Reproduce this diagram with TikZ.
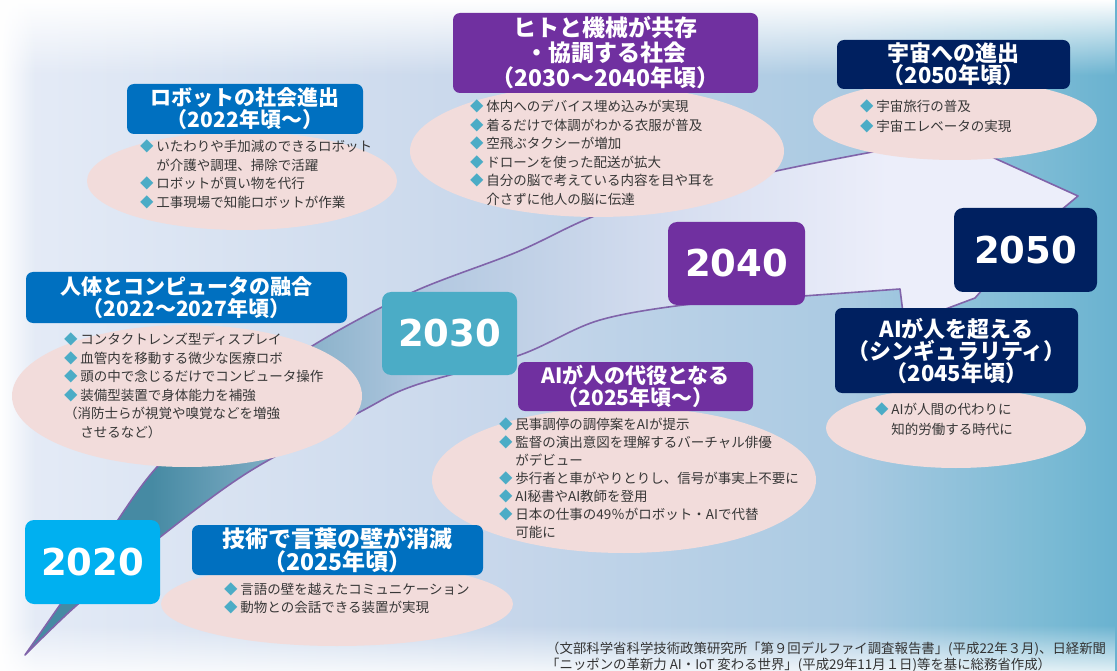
\documentclass[tikz,border=0pt]{standalone}
\usepackage{fontspec}
\setmainfont{Noto Sans CJK JP}
\newfontfamily\yearfont{DejaVu Sans}
\usetikzlibrary{shapes.geometric,fadings,positioning}

\definecolor{robotblue}{RGB}{0,112,192}
\definecolor{kyouchoupurple}{RGB}{112,48,160}
\definecolor{uchuunavy}{RGB}{0,32,96}
\definecolor{cyan2020}{RGB}{0,176,240}
\definecolor{teal2030}{RGB}{75,172,198}
\definecolor{bubblepink}{RGB}{242,220,219}
\definecolor{diacol}{RGB}{75,172,198}
\definecolor{bodytext}{RGB}{55,55,55}
\definecolor{edgepurple}{RGB}{128,100,170}
\definecolor{ribdark}{RGB}{70,138,163}
\definecolor{ribmid}{RGB}{120,168,192}
\definecolor{riblight}{RGB}{178,200,224}
\definecolor{ribpale}{RGB}{214,222,240}
\definecolor{ribwhite}{RGB}{236,238,250}
\definecolor{bgA}{RGB}{230,236,247}
\definecolor{bgB}{RGB}{200,215,235}
\definecolor{bgC}{RGB}{170,202,226}
\definecolor{bgD}{RGB}{122,186,212}
\definecolor{bgE}{RGB}{105,178,208}

\pgfdeclarehorizontalshading{ribbonshade}{100bp}{color(0bp)=(ribdark); color(31bp)=(ribdark); color(36bp)=(ribmid); color(44bp)=(riblight); color(56bp)=(ribpale); color(66bp)=(ribwhite); color(100bp)=(ribwhite)}
\pgfdeclarehorizontalshading{backshade}{100bp}{color(0bp)=(bgA); color(25bp)=(bgA); color(47bp)=(bgB); color(63bp)=(bgC); color(72bp)=(bgD); color(75bp)=(bgE); color(100bp)=(bgE)}

\tikzfading[name=whitetop, top color=transparent!0, bottom color=transparent!100]
\tikzfading[name=whitebottom, bottom color=transparent!0, top color=transparent!100]
\tikzfading[name=whiteleft, left color=transparent!0, right color=transparent!100]

\newcommand{\bul}{\textcolor{diacol}{◆}\hspace{0.2em}}
\newcommand{\ind}{\hspace*{1.2em}}

\tikzset{
  titlebox/.style={rectangle, rounded corners=7pt, text=white, inner sep=0pt, align=center,
    font=\bfseries\fontsize{21}{22}\selectfont},
  yearbox/.style={rectangle, rounded corners=9pt, text=white, inner sep=0pt,
    font=\yearfont\bfseries\fontsize{37}{38}\selectfont},
  bubble/.style={ellipse, fill=bubblepink, inner sep=0pt},
  bubbletext/.style={anchor=north west, inner sep=0pt, align=left, text=bodytext,
    font=\fontsize{13.5}{18.5}\selectfont},
}

\begin{document}
\begin{tikzpicture}[x=1pt, y=-1pt]
  \useasboundingbox (0,0) rectangle (1117,671);
  \shade[shading=backshade] (0,0) rectangle (1117,671);
  \fill[white, path fading=whitetop] (0,0) rectangle (1117,75);
  \fill[white, path fading=whiteleft] (0,0) rectangle (35,671);
  \fill[white, path fading=whitebottom, fill opacity=0.8] (0,625) rectangle (1117,671);

  \shade[shading=ribbonshade, draw=edgepurple, line width=1.6pt, line join=round]
    plot[smooth, tension=0.55] coordinates {(25,655) (90,562) (157,467) (240,397) (317,343) (413,292) (517,252) (600,214) (700,188) (800,166) (883,150)}
    -- (950,138) -- (1078,196) -- (1030,236) -- (975,298) -- (935,313) -- (903,313) -- (900,289)
    -- plot[smooth, tension=0.55] coordinates {(900,289) (803,296) (700,303) (600,320) (520,355) (413,386) (360,412) (247,473) (150,545) (77,605) (25,655)}
    -- cycle;

  \node[bubble, minimum width=310pt, minimum height=98pt] (robotbub) at (242,181) {};
  \node[bubble, minimum width=374pt, minimum height=132pt] (kyouchoubub) at (597,151) {};
  \node[bubble, minimum width=284pt, minimum height=80pt] (uchuubub) at (955,120) {};
  \node[bubble, minimum width=350pt, minimum height=142pt] (yuugoubub) at (187,396) {};
  \node[bubble, minimum width=384pt, minimum height=146pt] (daiyakubub) at (624,480) {};
  \node[bubble, minimum width=260pt, minimum height=80pt] (singularbub) at (956,428) {};
  \node[bubble, minimum width=352pt, minimum height=84pt] (kotobabub) at (337,604) {};

  \node[titlebox, fill=robotblue, minimum width=236pt, minimum height=50pt] (robottitle) at (245,109)
    {ロボットの社会進出\\（2022年頃～）};
  \node[titlebox, fill=robotblue, minimum width=321pt, minimum height=51pt] (yuugoutitle) at (186.5,297.5)
    {人体とコンピュータの融合\\（2022～2027年頃）};
  \node[titlebox, fill=robotblue, minimum width=291pt, minimum height=50pt,
    font=\bfseries\fontsize{23}{22}\selectfont] (kotobatitle) at (337.5,550)
    {技術で言葉の壁が消滅\\（2025年頃）};
  \node[titlebox, fill=kyouchoupurple, minimum width=305pt, minimum height=80pt,
    font=\bfseries\fontsize{23}{25}\selectfont] (kyouchoutitle) at (605.5,53)
    {ヒトと機械が共存\\・協調する社会\\（2030～2040年頃）};
  \node[titlebox, fill=kyouchoupurple, minimum width=235pt, minimum height=49pt] (daiyakutitle) at (635.5,386.5)
    {AIが人の代役となる\\（2025年頃～）};
  \node[titlebox, fill=uchuunavy, minimum width=233pt, minimum height=49pt,
    font=\bfseries\fontsize{22}{22}\selectfont] (uchuutitle) at (953.5,64.5)
    {宇宙への進出\\（2050年頃）};
  \node[titlebox, fill=uchuunavy, minimum width=243pt, minimum height=85pt,
    font=\bfseries\fontsize{22}{22}\selectfont] (singulartitle) at (956.5,350.5)
    {AIが人を超える\\（シンギュラリティ）\\（2045年頃）};

  \node[yearbox, fill=cyan2020, minimum width=135pt, minimum height=84pt] (y2020) at (92.5,562) {2020};
  \node[yearbox, fill=teal2030, minimum width=135pt, minimum height=83pt] (y2030) at (449.5,333.5) {2030};
  \node[yearbox, fill=kyouchoupurple, minimum width=137pt, minimum height=83pt] (y2040) at (736.5,263.5) {2040};
  \node[yearbox, fill=uchuunavy, minimum width=143pt, minimum height=84pt] (y2050) at (1025.5,250) {2050};

  \node[bubbletext] (robottxt) at (140,140)
    {\bul いたわりや手加減のできるロボット\\\ind が介護や調理、掃除で活躍\\\bul ロボットが買い物を代行\\\bul 工事現場で知能ロボットが作業};
  \node[bubbletext] (kyouchoutxt) at (470,100)
    {\bul 体内へのデバイス埋め込みが実現\\\bul 着るだけで体調がわかる衣服が普及\\\bul 空飛ぶタクシーが増加\\\bul ドローンを使った配送が拡大\\\bul 自分の脳で考えている内容を目や耳を\\\ind 介さずに他人の脳に伝達};
  \node[bubbletext, font=\fontsize{13.5}{20}\selectfont] (uchuutxt) at (860,100)
    {\bul 宇宙旅行の普及\\\bul 宇宙エレベータの実現};
  \node[bubbletext] (yuugoutxt) at (64,333)
    {\bul コンタクトレンズ型ディスプレイ\\\bul 血管内を移動する微少な医療ロボ\\\bul 頭の中で念じるだけでコンピュータ操作\\\bul 装備型装置で身体能力を補強\\（消防士らが視覚や嗅覚などを増強\\\ind させるなど）};
  \node[bubbletext, font=\fontsize{13.5}{18}\selectfont] (daiyakutxt) at (499,418)
    {\bul 民事調停の調停案をAIが提示\\\bul 監督の演出意図を理解するバーチャル俳優\\\ind がデビュー\\\bul 歩行者と車がやりとりし、信号が事実上不要に\\\bul AI秘書やAI教師を登用\\\bul 日本の仕事の49％がロボット・AIで代替\\\ind 可能に};
  \node[bubbletext, font=\fontsize{13.5}{20}\selectfont] (singulartxt) at (875,403)
    {\bul AIが人間の代わりに\\\ind 知的労働する時代に};
  \node[bubbletext, font=\fontsize{13.5}{17.5}\selectfont] (kotobatxt) at (224,583)
    {\bul 言語の壁を越えたコミュニケーション\\\bul 動物との会話できる装置が実現};

  \node[bubbletext, text=black!80, font=\fontsize{13.4}{16}\selectfont] (sourcenote) at (546,642)
    {（文部科学省科学技術政策研究所「第９回デルファイ調査報告書」(平成22年３月)、日経新聞\\「ニッポンの革新力 AI・IoT 変わる世界」(平成29年11月１日)等を基に総務省作成）};
\end{tikzpicture}
\end{document}
